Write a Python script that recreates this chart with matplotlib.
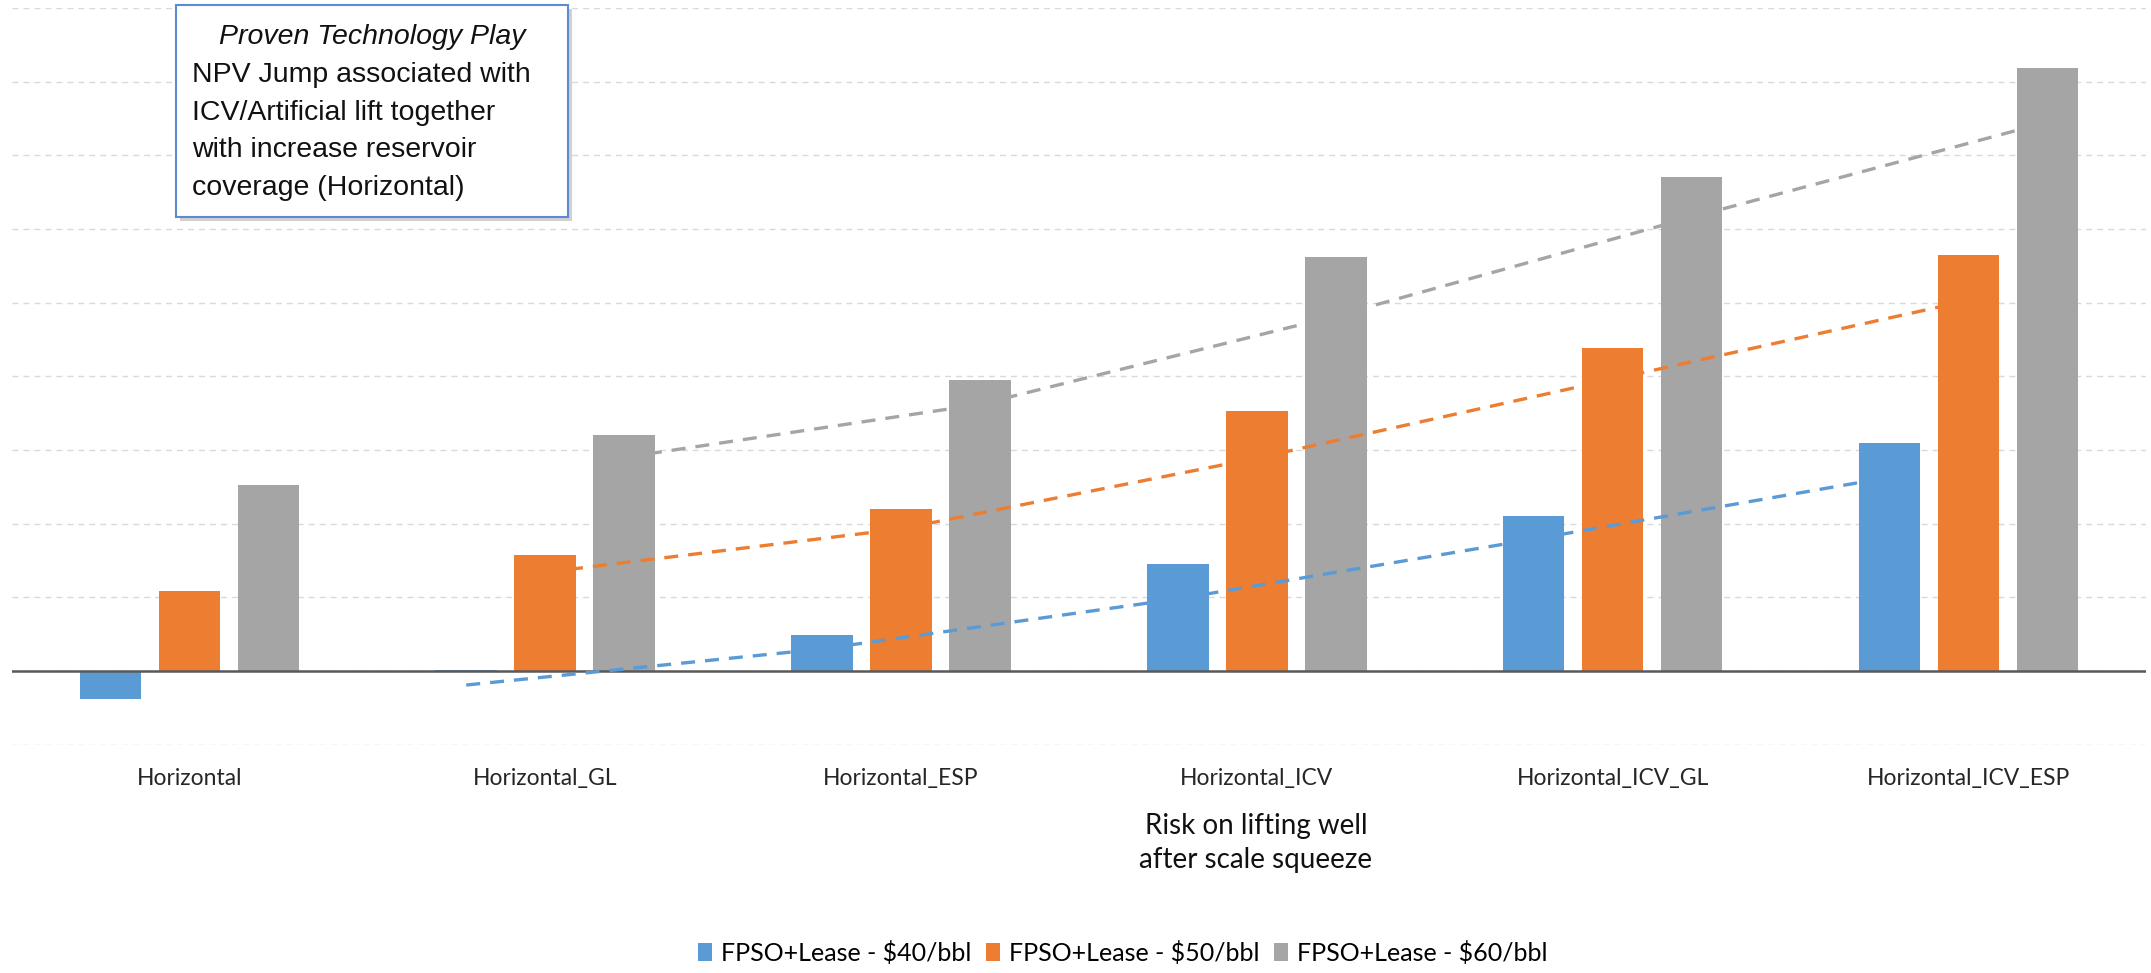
import matplotlib.pyplot as plt
from matplotlib.patches import Rectangle
import numpy as np

categories = ['Horizontal', 'Horizontal_GL', 'Horizontal_ESP',
              'Horizontal_ICV', 'Horizontal_ICV_GL', 'Horizontal_ICV_ESP']
series_names = ['FPSO+Lease - \\$40/bbl', 'FPSO+Lease - \\$50/bbl', 'FPSO+Lease - \\$60/bbl']
npv_40 = [-0.38, 0.02, 0.49, 1.45, 2.10, 3.10]
npv_50 = [1.08, 1.58, 2.20, 3.53, 4.39, 5.65]
npv_60 = [2.53, 3.20, 3.95, 5.62, 6.70, 8.18]
trend_40 = [-0.19, 0.30, 0.98, 1.79, 2.63]
trend_50 = [1.34, 1.93, 2.89, 3.96, 5.03]
trend_60 = [2.90, 3.62, 4.82, 6.16, 7.45]
colors = ['#5B9BD5', '#ED7D31', '#A5A5A5']

box_title = 'Proven Technology Play'
box_lines = ['NPV Jump associated with', 'ICV/Artificial lift together',
             'with increase reservoir', 'coverage (Horizontal)']
risk_note = 'Risk on lifting well\nafter scale squeeze'

W, H = 2151, 973
fig = plt.figure(figsize=(W / 100, H / 100), dpi=100)
ax = fig.add_axes([11.5 / W, 1 - 744.7 / H, 2134.8 / W, 736.7 / H])

x = np.arange(len(categories))
width = 0.173
step = 0.222
handles = []
for k, (vals, trend, color) in enumerate(zip([npv_40, npv_50, npv_60],
                                             [trend_40, trend_50, trend_60], colors)):
    off = (k - 1) * step
    b = ax.bar(x + off, vals, width, color=color, zorder=2)
    handles.append(b)
    ax.plot(x[1:] + off, trend, color=color, lw=2.4, linestyle=(0, (4.2, 3)),
            zorder=3, solid_capstyle='butt')

ax.set_xlim(-0.5, 5.5)
ax.set_ylim(-1, 9)
ax.set_yticks(np.arange(-1, 10))
ax.yaxis.grid(True, color='#D9D9D9', lw=1.0, linestyle=(0, (4.3, 3.6)), zorder=0)
ax.set_axisbelow(True)
ax.axhline(0, color='#595959', lw=1.8, zorder=2.5)
ax.tick_params(axis='y', left=False, labelleft=False)
ax.tick_params(axis='x', length=0, pad=17)
ax.set_xticks(x)
ax.set_xticklabels(categories, fontsize=16.5, family='Lato', color='#262626')
for s in ax.spines.values():
    s.set_visible(False)

# annotation box, top left
bx0, by0, bx1, by1 = 176, 5, 568, 217
fig.patches.append(Rectangle(((bx0 + 4) / W, 1 - (by1 + 4) / H), (bx1 - bx0) / W, (by1 - by0) / H,
                             transform=fig.transFigure, facecolor='#9a9a9a', alpha=0.45,
                             edgecolor='none', zorder=4))
fig.patches.append(Rectangle((bx0 / W, 1 - by1 / H), (bx1 - bx0) / W, (by1 - by0) / H,
                             transform=fig.transFigure, facecolor='white',
                             edgecolor='#5B8BD0', lw=1.5, zorder=5))
fig.text(372 / W, 1 - 44 / H, box_title, ha='center', va='baseline', fontsize=20.5,
         style='italic', family='Liberation Sans', color='#111111', zorder=6)
for i, line in enumerate(box_lines):
    fig.text(192 / W, 1 - (82 + 37.7 * i) / H, line, ha='left', va='baseline',
             fontsize=20.5, family='Liberation Sans', color='#111111', zorder=6)

fig.text(1256 / W, 1 - 843 / H, risk_note, ha='center', va='center', fontsize=20,
         family='Lato', color='#111111', linespacing=1.35)

fig.legend(handles, series_names, loc='center', bbox_to_anchor=(0.522, 1 - 953 / H),
           ncol=3, frameon=False, prop={'family': 'Lato', 'size': 18},
           handlelength=0.55, handleheight=0.75, handletextpad=0.35, columnspacing=0.6)

fig.savefig('out.png', dpi=100)
